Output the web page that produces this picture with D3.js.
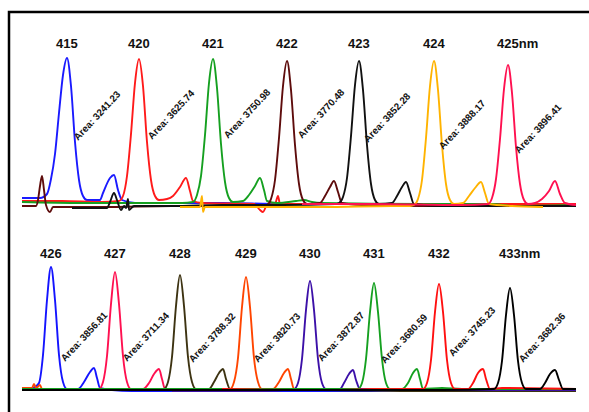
<!DOCTYPE html>
<html><head><meta charset="utf-8">
<script src="https://cdn.jsdelivr.net/npm/d3@7"></script>
<style>
html,body{margin:0;padding:0;background:#fff;}
svg{display:block;}
</style></head>
<body>
<svg id="chart" width="589" height="412"></svg>
<script>
// ---------------- DATA ----------------
// Top panel: wavelengths (nm), peak areas, main-peak retention (scan units)
const wavelengthsTop = [415, 420, 421, 422, 423, 424, 425];
const areasTop = ["3241.23", "3625.74", "3750.98", "3770.48", "3852.28", "3888.17", "3896.41"];
const peakTimeTop = [45, 117, 191, 265, 337, 412, 486];

// Bottom panel
const wavelengthsBottom = [426, 427, 428, 429, 430, 431, 432, 433];
const areasBottom = ["3856.81", "3711.34", "3788.32", "3820.73", "3872.87", "3680.59", "3745.23", "3682.36"];
const peakTimeBottom = [29, 93, 158, 224, 288, 352, 417, 488];

// Traces: [scan, intensity]
const trace415 = [[0,6],[18,6],[25,10],[29,25],[33,50],[37,91],[41,129],[45,146],[49,118],[53,62],[57,24],[61,8],[65,4],[78,4],[81,11],[88,26],[92,29],[96,14],[100,4],[113,1],[150,1],[200,1],[260,0],[338,0]];
const trace420 = [[0,3],[40,3],[80,2],[97,3],[101,8],[105,28],[109,70],[113,121],[117,145],[121,118],[125,62],[129,24],[133,8],[137,4],[145,5],[151,8],[158,17],[164,26],[168,13],[171,3],[180,1],[232,0],[238,-6],[241,-8],[245,-1],[253,0],[256,8],[258,0],[300,0],[400,0],[554,0]];
const trace421 = [[0,2],[60,1],[120,1],[160,1],[171,2],[175,9],[179,28],[183,69],[187,121],[191,145],[195,116],[199,60],[203,22],[207,6],[211,2],[221,3],[227,9],[233,18],[238,26],[242,14],[245,3],[255,1],[274,3],[282,4],[290,2],[300,1],[400,0],[470,0],[490,-2],[554,-1]];
const trace422 = [[0,-2],[14,-2],[16,4],[18,18],[20,28],[22,14],[24,-1],[28,-8],[31,-3],[40,-3],[80,-3],[150,-2],[200,-2],[241,-2],[245,-1],[249,5],[253,24],[257,66],[261,118],[265,143],[269,114],[273,59],[277,20],[281,4],[285,0],[298,1],[303,8],[308,17],[312,23],[316,12],[320,1],[340,-1],[400,-2],[554,-2]];
const trace423 = [[50,-4],[85,-4],[88,2],[92,11],[95,4],[99,-6],[102,-2],[104,-4],[106,5],[107,-6],[112,-2],[150,-2],[200,-1],[260,-1],[313,0],[317,1],[321,7],[325,26],[329,68],[333,119],[337,143],[341,114],[345,59],[349,20],[353,4],[357,0],[370,1],[375,8],[380,17],[384,22],[388,11],[392,0],[420,-2],[480,-2],[554,-2]];
const trace424 = [[158,-3],[178,-3],[180,8],[181,-8],[183,-3],[230,-3],[300,-3],[370,-2],[388,-2],[392,-1],[396,5],[400,24],[404,66],[408,118],[412,143],[416,114],[420,59],[424,20],[428,4],[432,0],[441,1],[447,8],[453,16],[459,22],[463,11],[467,0],[490,-2],[521,-3]];
const trace425 = [[280,0],[350,0],[440,-1],[466,0],[470,6],[474,25],[478,65],[482,115],[486,139],[490,111],[494,57],[498,20],[502,4],[506,0],[513,1],[520,5],[527,13],[533,23],[538,10],[543,1],[554,-1]];

const trace426 = [[10,1],[13,2],[17,6],[21,34],[25,89],[29,122],[33,89],[37,34],[41,7],[45,0],[56,0],[62,7],[68,17],[72,21],[75,11],[78,1],[90,-1],[110,-2],[150,-2],[200,-2],[250,-2],[330,-2],[420,-1],[554,-1]];
const trace427 = [[0,-1],[40,-1],[60,-1],[77,0],[81,7],[85,33],[89,85],[93,117],[97,85],[101,33],[105,7],[109,0],[121,0],[127,6],[132,15],[137,20],[140,10],[143,0],[170,-1],[250,-1],[350,-1],[554,-1]];
const trace428 = [[100,-1],[130,-1],[142,0],[146,7],[150,32],[154,83],[158,114],[162,83],[166,32],[170,7],[174,0],[187,0],[192,7],[197,16],[201,20],[204,10],[208,0],[230,-1],[300,-1],[400,-2],[554,-2]];
const trace429 = [[0,1],[10,1],[12,5],[14,1],[18,4],[20,0],[60,0],[120,0],[180,0],[208,0],[212,7],[216,31],[220,82],[224,112],[228,82],[232,31],[236,7],[240,0],[251,0],[257,7],[262,16],[266,20],[269,10],[272,0],[300,0],[554,0]];
const trace430 = [[150,-2],[240,-2],[272,0],[276,6],[280,30],[284,79],[288,108],[292,79],[296,30],[300,6],[304,0],[318,0],[322,6],[327,15],[331,19],[334,9],[338,0],[360,-1],[440,-1],[554,-1]];
const trace431 = [[0,0],[100,0],[200,0],[300,0],[336,0],[340,6],[344,30],[348,77],[352,106],[356,77],[360,30],[364,6],[368,0],[380,0],[386,6],[391,16],[395,20],[398,10],[401,0],[420,1],[440,0],[554,0]];
const trace432 = [[200,0],[300,-1],[380,0],[401,0],[405,6],[409,29],[413,77],[417,105],[421,77],[425,29],[429,6],[433,0],[446,0],[451,6],[456,16],[461,20],[464,10],[468,0],[480,1],[554,0]];
const trace433 = [[0,-1],[60,-1],[150,-1],[250,-1],[350,-1],[420,-1],[472,0],[476,6],[480,28],[484,74],[488,101],[492,74],[496,28],[500,6],[504,0],[518,0],[523,6],[528,15],[533,19],[537,9],[541,0],[554,0]];

const tracesTop = [trace415, trace420, trace421, trace422, trace423, trace424, trace425];
const tracesBottom = [trace426, trace427, trace428, trace429, trace430, trace431, trace432, trace433];

// ---------------- STYLE / LAYOUT ----------------
const colorsTop = ["#1a1aff", "#ff1a1a", "#15a020", "#5e0c0c", "#111111", "#ffb300", "#ff1050"];
const colorsBottom = ["#1414ff", "#ff1050", "#3d3312", "#ff4500", "#3c10a8", "#15a020", "#ff1010", "#000000"];

const areaDxTop = [11, 13, 15, 15, 9, 9, 11];
const areaYTop = [141, 140, 139, 139, 143, 150, 154];
const areaDxBottom = [14, 12, 13, 12, 12, 11, 14, 13];
const areaYBottom = [362, 362, 363, 363, 362, 364, 357, 363];

const svg = d3.select("#chart");

// frame
svg.append("path")
  .attr("d", "M9,412V12H589")
  .attr("fill", "none").attr("stroke", "#000").attr("stroke-width", 2.5);

const x = d3.scaleLinear().domain([0, 554]).range([22, 576]);
const yTop = d3.scaleLinear().domain([-10, 150]).range([214, 54]);
const yBot = d3.scaleLinear().domain([-10, 150]).range([399, 239]);

function drawPanel(traces, colors, wl, areas, peakT, y, labelY, areaDx, areaY, lastSuffix) {
  const g = svg.append("g");
  const line = d3.line().x(d => x(d[0])).y(d => y(d[1])).curve(d3.curveMonotoneX);
  traces.forEach((tr, i) => {
    g.append("path").datum(tr)
      .attr("d", line)
      .attr("fill", "none")
      .attr("stroke", colors[i])
      .attr("stroke-width", 1.9)
      .attr("stroke-linejoin", "round");
  });
  wl.forEach((w, i) => {
    const t = g.append("text")
      .attr("x", x(peakT[i]) - 11)
      .attr("y", labelY)
      .attr("font-family", "Liberation Sans, Arial, sans-serif")
      .attr("font-weight", "bold")
      .attr("font-size", 13)
      .attr("fill", "#111")
      .text(w + (i === wl.length - 1 ? lastSuffix : ""));
  });
  areas.forEach((a, i) => {
    const ax = x(peakT[i]) + areaDx[i];
    const ay = areaY[i];
    g.append("text")
      .attr("transform", `translate(${ax},${ay}) rotate(-47)`)
      .attr("font-family", "Liberation Sans, Arial, sans-serif")
      .attr("font-weight", "bold")
      .attr("font-size", 9.8)
      .attr("fill", "#111")
      .text("Area: " + a);
  });
}

drawPanel(tracesTop, colorsTop, wavelengthsTop, areasTop, peakTimeTop, yTop, 48, areaDxTop, areaYTop, "nm");
drawPanel(tracesBottom, colorsBottom, wavelengthsBottom, areasBottom, peakTimeBottom, yBot, 258, areaDxBottom, areaYBottom, "nm");
</script>
</body></html>
